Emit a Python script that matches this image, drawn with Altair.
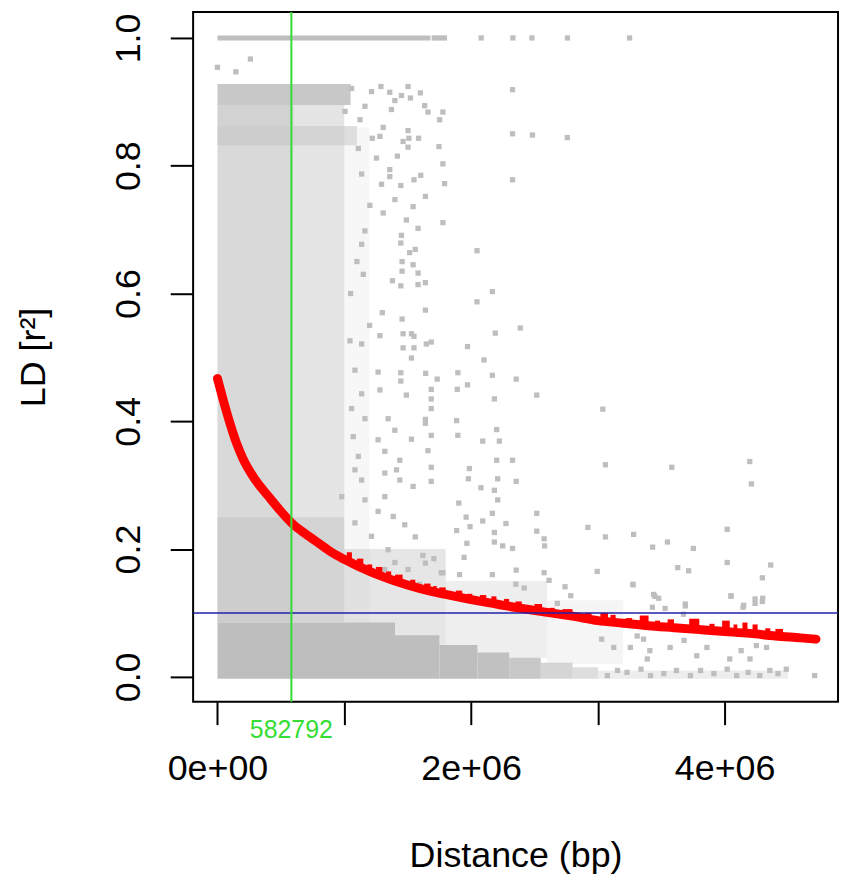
import altair as alt
import pandas as pd
import numpy as np

# ---------------- values ----------------
x_ticks = [0, 1000000, 2000000, 3000000, 4000000]
x_tick_text = {0: "0e+00", 2000000: "2e+06", 4000000: "4e+06"}
y_ticks = [0.0, 0.2, 0.4, 0.6, 0.8, 1.0]

half_decay_bp = 582792
r2_threshold = 0.1

# LD decay curve (distance in Mb, r2)
curve_mb = [0.0, 0.05, 0.1, 0.15, 0.2, 0.3, 0.4, 0.5, 0.6, 0.7, 0.8, 0.9, 1.0, 1.2, 1.4, 1.6,
            1.8, 2.0, 2.2, 2.4, 2.6, 2.8, 3.0, 3.2, 3.4, 3.6, 3.8, 4.0, 4.2, 4.4, 4.6, 4.72]
curve_r2 = [0.467, 0.430, 0.396, 0.366, 0.342, 0.308, 0.283, 0.259, 0.238, 0.223, 0.209, 0.195,
            0.184, 0.165, 0.150, 0.138, 0.129, 0.121, 0.114, 0.107, 0.101, 0.095, 0.088, 0.084,
            0.080, 0.077, 0.074, 0.071, 0.068, 0.064, 0.061, 0.059]

# jagged top of the curve (Mb start, Mb end, r2 top)
spike_x0 = [1.02, 1.10, 1.18, 1.25, 1.33, 1.40, 1.52, 1.63, 1.70, 1.75, 1.88, 1.97, 2.07, 2.16,
            2.26, 2.35, 2.50, 2.62, 2.72, 2.90, 3.02, 3.10, 3.22, 3.33, 3.45, 3.55, 3.72, 3.88,
            3.98, 4.07, 4.14, 4.22, 4.32, 4.40]
spike_x1 = [1.06, 1.15, 1.22, 1.30, 1.37, 1.46, 1.56, 1.68, 1.73, 1.80, 1.93, 2.01, 2.12, 2.20,
            2.30, 2.40, 2.56, 2.66, 2.80, 2.95, 3.08, 3.14, 3.27, 3.40, 3.49, 3.60, 3.80, 3.92,
            4.04, 4.10, 4.18, 4.26, 4.36, 4.46]
spike_top = [0.195, 0.185, 0.176, 0.172, 0.165, 0.160, 0.152, 0.146, 0.142, 0.140, 0.135,
             0.130, 0.128, 0.126, 0.122, 0.118, 0.114, 0.108, 0.106, 0.100, 0.100, 0.097,
             0.092, 0.096, 0.088, 0.090, 0.091, 0.083, 0.088, 0.082, 0.085, 0.082, 0.076, 0.075]

# regions where the grey points are too dense to separate (Mb, r2, share covered)
fog_x0 = [0.00, 0.60, 1.00, 0.00, 0.00, 0.00, 0.00, 1.00, 1.80, 2.60,
          0.00, 1.40, 1.75, 2.05, 2.30, 2.55, 2.80, 3.00, 0.00]
fog_x1 = [0.60, 1.00, 1.20, 1.05, 1.10, 0.60, 1.00, 1.80, 2.60, 3.20,
          1.40, 1.75, 2.05, 2.30, 2.55, 2.80, 3.00, 4.50, 1.68]
fog_y0 = [0.085, 0.085, 0.085, 0.895, 0.832, 0.862, 0.085, 0.050, 0.030, 0.020,
          -0.003, -0.003, -0.003, -0.003, -0.003, -0.003, -0.003, -0.003, 0.996]
fog_y1 = [0.895, 0.895, 0.860, 0.928, 0.862, 0.895, 0.250, 0.200, 0.150, 0.120,
          0.085, 0.065, 0.050, 0.038, 0.030, 0.022, 0.015, 0.010, 1.004]
fog_op = [0.58, 0.40, 0.12, 0.85, 0.45, 0.25, 0.45, 0.38, 0.26, 0.16,
          1.0, 1.0, 1.0, 0.95, 0.85, 0.65, 0.5, 0.28, 1.0]

# separate grey points (Mb, r2)
pts_top = [(1.71, 1.0), (1.75, 1.0), (1.79, 1.0), (2.08, 1.0), (2.33, 1.0), (2.48, 1.0),
           (2.76, 1.0), (3.25, 1.0), (0.0, 0.954), (0.145, 0.947), (0.26, 0.967)]

pts_mid = [(1.058, 0.921), (1.215, 0.916), (1.289, 0.924), (1.359, 0.915), (1.399, 0.902),
           (1.163, 0.893), (1.372, 0.888), (1.006, 0.885), (1.124, 0.872), (1.307, 0.860),
           (1.221, 0.843), (1.281, 0.846), (1.111, 0.827), (1.254, 0.812), (1.419, 0.815),
           (1.359, 0.794), (1.359, 0.783), (1.137, 0.787), (1.294, 0.771), (1.399, 0.747),
           (1.202, 0.738), (1.307, 0.726), (1.163, 0.698), (1.137, 0.677),
           (1.05, 0.60), (1.15, 0.63), (1.30, 0.57), (1.20, 0.55), (1.38, 0.62), (1.10, 0.65),
           (1.045, 0.526), (1.137, 0.521), (1.281, 0.534), (1.084, 0.480), (1.267, 0.477),
           (1.137, 0.443), (1.281, 0.449), (1.058, 0.420), (1.163, 0.404), (1.346, 0.404),
           (1.071, 0.376), (1.267, 0.371), (1.111, 0.345), (1.320, 0.353), (1.084, 0.324),
           (1.320, 0.319), (1.137, 0.308), (0.980, 0.282), (1.163, 0.277), (1.320, 0.282),
           (1.267, 0.259), (1.084, 0.241), (1.215, 0.220), (1.346, 0.199), (1.320, 0.168),
           (1.399, 0.386), (1.412, 0.324), (1.386, 0.251), (1.399, 0.179)]

pts_strip = [(1.503, 0.924), (1.522, 0.906), (1.600, 0.914), (1.451, 0.910), (1.634, 0.894),
             (1.660, 0.884), (1.778, 0.884), (1.752, 0.872), (1.503, 0.855), (1.510, 0.843),
             (1.464, 0.838), (1.503, 0.829), (1.586, 0.843), (1.747, 0.830), (1.778, 0.803),
             (1.603, 0.785), (1.550, 0.778), (1.446, 0.769), (1.791, 0.772), (1.640, 0.752),
             (1.543, 0.736), (1.490, 0.715), (1.778, 0.711), (1.582, 0.702), (1.451, 0.691),
             (1.446, 0.679), (1.516, 0.664), (1.560, 0.669), (1.456, 0.650), (1.543, 0.645),
             (1.456, 0.635), (1.582, 0.632), (1.446, 0.612), (1.582, 0.614), (1.640, 0.617),
             (1.456, 0.560), (1.640, 0.574), (1.464, 0.537), (1.530, 0.537), (1.550, 0.533),
             (1.464, 0.515), (1.550, 0.515), (1.647, 0.521), (1.686, 0.524), (1.530, 0.499),
             (1.446, 0.476), (1.642, 0.475), (1.733, 0.466), (1.446, 0.463), (1.686, 0.450),
             (1.490, 0.441), (1.686, 0.435), (1.686, 0.420), (1.640, 0.403), (1.640, 0.397),
             (1.530, 0.372), (1.686, 0.378), (1.660, 0.354), (1.438, 0.339), (1.686, 0.328),
             (1.686, 0.306), (1.438, 0.308), (1.543, 0.298), (1.477, 0.238), (1.560, 0.219),
             (1.620, 0.190), (1.707, 0.185), (1.640, 0.178), (1.503, 0.168), (1.594, 0.145),
             (1.765, 0.163)]

pts_far = [(2.327, 0.919), (2.327, 0.850), (2.484, 0.848), (2.759, 0.844), (2.327, 0.778),
           (2.047, 0.667), (2.168, 0.603), (2.047, 0.587), (2.388, 0.546), (2.191, 0.538),
           (1.972, 0.517), (2.102, 0.496), (2.168, 0.472), (2.356, 0.466), (2.518, 0.441),
           (2.184, 0.435), (3.039, 0.419), (1.896, 0.476), (1.891, 0.450), (1.972, 0.457),
           (1.886, 0.401), (1.896, 0.378), (2.202, 0.387), (2.223, 0.369), (2.092, 0.369),
           (2.202, 0.339), (2.327, 0.339), (1.987, 0.326), (1.979, 0.310), (2.210, 0.310),
           (2.356, 0.306), (3.060, 0.332), (3.583, 0.328), (4.198, 0.337), (4.211, 0.302),
           (2.078, 0.296), (2.184, 0.292), (2.210, 0.277), (1.903, 0.272), (2.168, 0.256),
           (2.518, 0.256), (1.961, 0.250), (2.092, 0.244), (2.275, 0.240), (1.992, 0.235),
           (1.886, 0.229), (2.518, 0.228), (2.184, 0.226), (2.921, 0.234), (4.020, 0.231),
           (3.060, 0.219), (3.282, 0.223), (3.549, 0.211), (3.432, 0.203), (3.753, 0.201),
           (2.576, 0.216), (2.580, 0.205), (1.967, 0.209), (2.184, 0.211), (2.249, 0.205),
           (2.327, 0.201), (1.945, 0.187), (4.020, 0.179), (4.363, 0.175), (3.630, 0.171),
           (3.716, 0.166), (2.995, 0.165), (1.778, 0.163), (1.909, 0.160), (2.168, 0.160),
           (2.356, 0.167), (2.576, 0.163), (2.615, 0.151), (4.297, 0.155), (3.277, 0.144),
           (2.741, 0.141), (2.353, 0.145), (2.419, 0.139), (2.786, 0.127), (3.450, 0.126),
           (4.050, 0.126), (4.297, 0.118), (4.240, 0.115), (3.690, 0.111), (4.145, 0.109),
           (2.680, 0.115)]

pts_low = [(3.277, 0.145), (3.44, 0.129), (3.48, 0.123), (3.43, 0.109), (3.53, 0.107),
           (3.69, 0.114), (4.05, 0.127), (4.15, 0.112), (4.24, 0.122), (4.30, 0.123),
           (3.675, 0.098), (3.03, 0.059), (3.125, 0.046), (3.256, 0.046), (3.31, 0.064),
           (3.36, 0.059), (3.41, 0.041), (3.57, 0.046), (3.68, 0.057), (3.86, 0.046),
           (4.13, 0.041), (4.25, 0.049), (4.33, 0.046), (3.39, 0.028), (3.78, 0.033),
           (4.04, 0.028), (4.20, 0.028), (4.71, 0.002),
           (3.075, 0.002), (3.155, 0.010), (3.23, 0.007), (3.34, 0.012), (3.415, 0.002),
           (3.52, 0.005), (3.62, 0.010), (3.73, 0.002), (3.81, 0.010), (3.915, 0.005),
           (4.02, 0.012), (4.095, 0.002), (4.185, 0.007), (4.277, 0.002), (4.356, 0.010),
           (4.42, 0.005), (4.486, 0.012)]

# ---------------- tables ----------------
MB = 1_000_000
all_pts = pts_top + pts_mid + pts_strip + pts_far + pts_low
points_df = pd.DataFrame({"dist": [p[0] * MB for p in all_pts], "r2": [p[1] for p in all_pts]})
fog_df = pd.DataFrame({"x0": np.array(fog_x0) * MB, "x1": np.array(fog_x1) * MB,
                       "y0": fog_y0, "y1": fog_y1, "op": fog_op})
curve_df = pd.DataFrame({"dist": np.array(curve_mb) * MB, "r2": curve_r2})
spike_mid = (np.array(spike_x0) + np.array(spike_x1)) / 2
spike_df = pd.DataFrame({"x0": np.array(spike_x0) * MB, "x1": np.array(spike_x1) * MB,
                         "top": spike_top,
                         "base": np.interp(spike_mid, curve_mb, curve_r2) - 0.004})

# ---------------- scales and axes ----------------
FONT = "Liberation Sans"
GREY = "#BEBEBE"
GREEN = "#33DD33"

xs = alt.Scale(domain=[-192000, 4894000], nice=False, zero=False)
ys = alt.Scale(domain=[-0.039, 1.0405], nice=False, zero=False)

label_expr = " : ".join(f"datum.value == {k} ? '{v}'" for k, v in x_tick_text.items()) + " : ''"

xaxis = alt.Axis(values=x_ticks, labelExpr=label_expr, title="Distance (bp)", grid=False,
                 domain=False, tickSize=23, tickWidth=2, tickColor="black",
                 labelFont=FONT, labelFontSize=36, labelColor="black", labelPadding=44,
                 labelBaseline="middle", labelFlush=False, labelOverlap=False,
                 titleFont=FONT, titleFontSize=36, titleFontWeight="normal", titleColor="black",
                 titleX=324, titleY=155, titleAlign="center", titleBaseline="middle")
yaxis = alt.Axis(values=y_ticks, format=".1f", title="LD [r²]", grid=False, domain=False,
                 tickSize=23, tickWidth=2, tickColor="black",
                 labelFont=FONT, labelFontSize=36, labelColor="black", labelPadding=42,
                 labelAngle=270, labelAlign="center", labelBaseline="middle",
                 labelFlush=False, labelOverlap=False,
                 titleFont=FONT, titleFontSize=36, titleFontWeight="normal", titleColor="black",
                 titleAngle=270, titleX=-160, titleY=346.5, titleAlign="center",
                 titleBaseline="middle")

fog = alt.Chart(fog_df).mark_rect(color=GREY).encode(
    x=alt.X("x0:Q", scale=xs, axis=xaxis), x2="x1:Q",
    y=alt.Y("y0:Q", scale=ys, axis=yaxis), y2="y1:Q",
    opacity=alt.Opacity("op:Q", scale=None),
)
points = alt.Chart(points_df).mark_square(color=GREY, size=28, opacity=1).encode(
    x=alt.X("dist:Q", scale=xs, axis=xaxis),
    y=alt.Y("r2:Q", scale=ys, axis=yaxis),
)
curve = alt.Chart(curve_df).mark_line(color="#FF0000", strokeWidth=9, interpolate="monotone",
                                      strokeCap="round").encode(
    x=alt.X("dist:Q", scale=xs, axis=xaxis),
    y=alt.Y("r2:Q", scale=ys, axis=yaxis),
)
spikes = alt.Chart(spike_df).mark_rect(color="#FF0000").encode(
    x=alt.X("x0:Q", scale=xs, axis=xaxis), x2="x1:Q",
    y=alt.Y("base:Q", scale=ys, axis=yaxis), y2="top:Q",
)
hline = alt.Chart(pd.DataFrame({"r2": [r2_threshold]})).mark_rule(
    color="#2020A8", strokeWidth=1.6).encode(y=alt.Y("r2:Q", scale=ys, axis=yaxis))
vline = alt.Chart(pd.DataFrame({"dist": [half_decay_bp]})).mark_rule(
    color=GREEN, strokeWidth=2).encode(x=alt.X("dist:Q", scale=xs, axis=xaxis))
vlabel = alt.Chart(pd.DataFrame({"dist": [half_decay_bp], "txt": [str(half_decay_bp)]})).mark_text(
    color=GREEN, font=FONT, fontSize=25, align="center", baseline="middle").encode(
    x=alt.X("dist:Q", scale=xs, axis=xaxis), y=alt.value(721), text="txt:N")

chart = alt.layer(fog, points, curve, spikes, hline, vline, vlabel).properties(
    width=648, height=693,
    autosize=alt.AutoSizeParams(type="none"),
    padding={"left": 186, "top": 2, "right": 5, "bottom": 180},
    background="white",
).configure_view(stroke="black", strokeWidth=2)

chart.save("out.html", embed_options={"renderer": "svg", "actions": False})
